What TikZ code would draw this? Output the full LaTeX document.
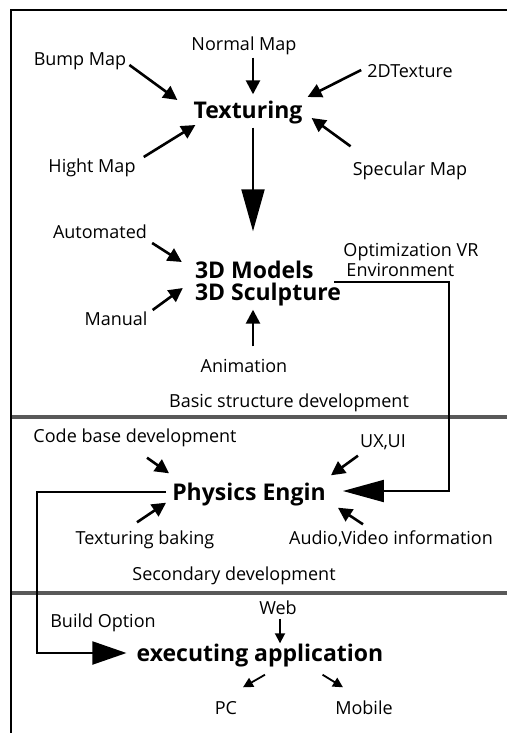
\documentclass[tikz,border=0pt]{standalone}
\usepackage{fontspec}
\setmainfont{Open Sans}
\usetikzlibrary{arrows.meta}

\begin{document}
\begin{tikzpicture}[x=1pt, y=-1pt,
  lbl/.style={inner sep=0pt, font=\fontsize{18}{20}\selectfont, text height=13pt, text depth=4pt},
  hub/.style={inner sep=0pt, font=\fontsize{23}{24}\selectfont\bfseries, text height=16pt, text depth=5pt},
  stack/.style={inner sep=0pt, align=left, font=\fontsize{23}{22}\selectfont\bfseries},
  sarrow/.style={-{Triangle[length=14pt,width=14pt]}, line width=2.6pt},
  tarrow/.style={-{Triangle[length=10pt,width=10pt]}, line width=1.8pt},
  barrow/.style={-{Triangle[length=42pt,width=23pt]}, line width=2pt},
  band/.style={line width=3.5pt, black!65}
]
  \useasboundingbox (0,0) rectangle (507,733);

  % frame and stage bands
  \draw[line width=2pt] (11,733) -- (11,10) -- (507,10);
  \draw[band] (12,417) -- (507,417);
  \draw[band] (12,593) -- (507,593);

  % texturing stage
  \node[hub] (tex)    at (248,113) {Texturing};
  \node[lbl] (bump)   at (80,61)   {Bump Map};
  \node[lbl] (normal) at (244,46)  {Normal Map};
  \node[lbl] (twod)   at (410,73)  {2DTexture};
  \node[lbl] (hight)  at (92,168)  {Hight Map};
  \node[lbl] (spec)   at (410,171) {Specular Map};

  \draw[sarrow] ([shift={(3,4)}]bump.east)       -- ([shift={(-16,-13)}]tex.west);
  \draw[sarrow] ([shift={(9,3)}]normal.south)    -- ([shift={(5,-8)}]tex.north);
  \draw[sarrow] ([shift={(-6,-3)}]twod.west)     -- ([shift={(5,-16)}]tex.east);
  \draw[sarrow] ([shift={(8,-11)}]hight.east)    -- ([shift={(2,12)}]tex.west);
  \draw[sarrow] ([shift={(-2,-16)}]spec.north west) -- ([shift={(9,5)}]tex.east);

  % modelling stage
  \node[stack] (models) at (268,284) {3D Models\\3D Sculpture};
  \node[lbl] (auto)   at (100,234) {Automated};
  \node[lbl] (manual) at (116,321) {Manual};
  \node[lbl] (anim)   at (244,368) {Animation};
  \node[lbl, align=left, text height=, text depth=] (optim) at (411,260) {Optimization VR\\\hspace{3pt}Environment};
  \node[lbl] (basic)  at (289,403) {Basic structure development};

  \draw[barrow] ([shift={(5,4)}]tex.south) -- ([shift={(-15,-30)}]models.north);
  \draw[sarrow] ([shift={(5,9)}]auto.east)    -- ([shift={(-13,-22)}]models.west);
  \draw[sarrow] ([shift={(5,-11)}]manual.east) -- ([shift={(-12,4)}]models.west);
  \draw[sarrow] ([shift={(9,-13)}]anim.north) -- ([shift={(-15,3)}]models.south);

  % physics stage
  \node[hub] (phys)   at (249,495) {Physics Engin};
  \node[lbl] (code)   at (135,438) {Code base development};
  \node[lbl] (uxui)   at (383,443) {UX,UI};
  \node[lbl] (bake)   at (145,540) {Texturing baking};
  \node[lbl] (audio)  at (391,540) {Audio,Video information};
  \node[lbl] (second) at (234,576) {Secondary development};

  \coordinate (vrturn) at (449,282);
  \draw[barrow, -{Triangle[length=41pt,width=22pt]}]
    ([shift={(-7,-2)}]models.east) -- (vrturn) |- ([shift={(17,-4)}]phys.east);
  \draw[sarrow] ([shift={(12,11)}]code.south)      -- ([shift={(-3,-11)}]phys.north west);
  \draw[sarrow] ([shift={(-2,4)}]uxui.south west)  -- ([shift={(5,-9)}]phys.north east);
  \draw[sarrow] ([shift={(-8,-9)}]bake.north)      -- ([shift={(-6,-3)}]phys.south west);
  \draw[sarrow] ([shift={(-28,-7)}]audio.north)    -- ([shift={(12,2)}]phys.south east);

  % build stage
  \node[hub] (exec)   at (260,656) {executing application};
  \node[lbl] (build)  at (103,623) {Build Option};
  \node[lbl] (web)    at (278,610) {Web};
  \node[lbl] (pc)     at (226,710) {PC};
  \node[lbl] (mobile) at (364,710) {Mobile};

  \coordinate (bturn) at (37,492);
  \draw[barrow, -{Triangle[length=34pt,width=23pt]}]
    ([shift={(-6,-3)}]phys.west) -- (bturn) |- ([shift={(-10,-3)}]exec.west);
  \draw[tarrow] ([shift={(2,0)}]web.south)        -- ([shift={(20,-2)}]exec.north);
  \draw[tarrow] ([shift={(5,8)}]exec.south)       -- ([shift={(17,-14)}]pc.north);
  \draw[tarrow] ([shift={(-61,8)}]exec.south east) -- ([shift={(-21,-14)}]mobile.north);
\end{tikzpicture}
\end{document}
